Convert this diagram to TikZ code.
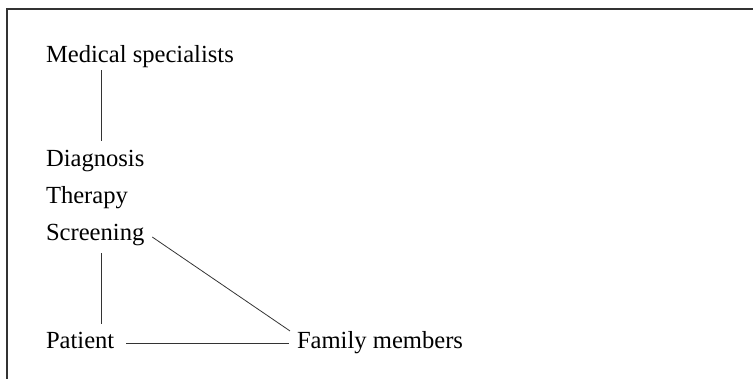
\documentclass[tikz,border=0pt]{standalone}
\usepackage{fontspec}
\setmainfont{Liberation Serif}
\usepackage{tikz}
\usetikzlibrary{positioning}

\begin{document}
\begin{tikzpicture}[
    x=0.02cm, y=0.02cm,
    every node/.style={font=\fontsize{14}{16}\selectfont, inner sep=0pt, outer sep=0pt, anchor=base west},
    item/.style={},
    link/.style={draw=black!80, line width=0.45pt},
    frame/.style={draw=black!80, line width=0.9pt}
]

% Page area and frame
\useasboundingbox (0,0) rectangle (753,-379);
\draw[frame] (753,-9) -- (7,-9) -- (7,-379);

% Entries
\node[item] (medical_specialists) at (46,-62) {Medical specialists};
\node[item] (diagnosis) at (46,-166) {Diagnosis};
\node[item] (therapy) at (46,-203) {Therapy};
\node[item] (screening) at (46,-240) {Screening};
\node[item] (patient) at (46,-348) {Patient};
\node[item] (family_members) at (297,-348) {Family members};

% Connections
\draw[link, shorten <=1.6pt, shorten >=5pt] ([xshift=1.1cm]medical_specialists.south west) -- ([xshift=1.1cm]diagnosis.north west);
\draw[link, shorten <=4.4pt, shorten >=4.6pt] ([xshift=1.1cm]screening.south west) -- ([xshift=1.1cm]patient.north west);
\draw[link, shorten <=6.8pt, shorten >=4.5pt] ([yshift=2.8pt]patient.base east) -- ([yshift=2.8pt]family_members.base west);
\draw[link] ([shift={(4.5pt,1.7pt)}]screening.base east) -- ([xshift=-4pt]family_members.north west);

\end{tikzpicture}
\end{document}
